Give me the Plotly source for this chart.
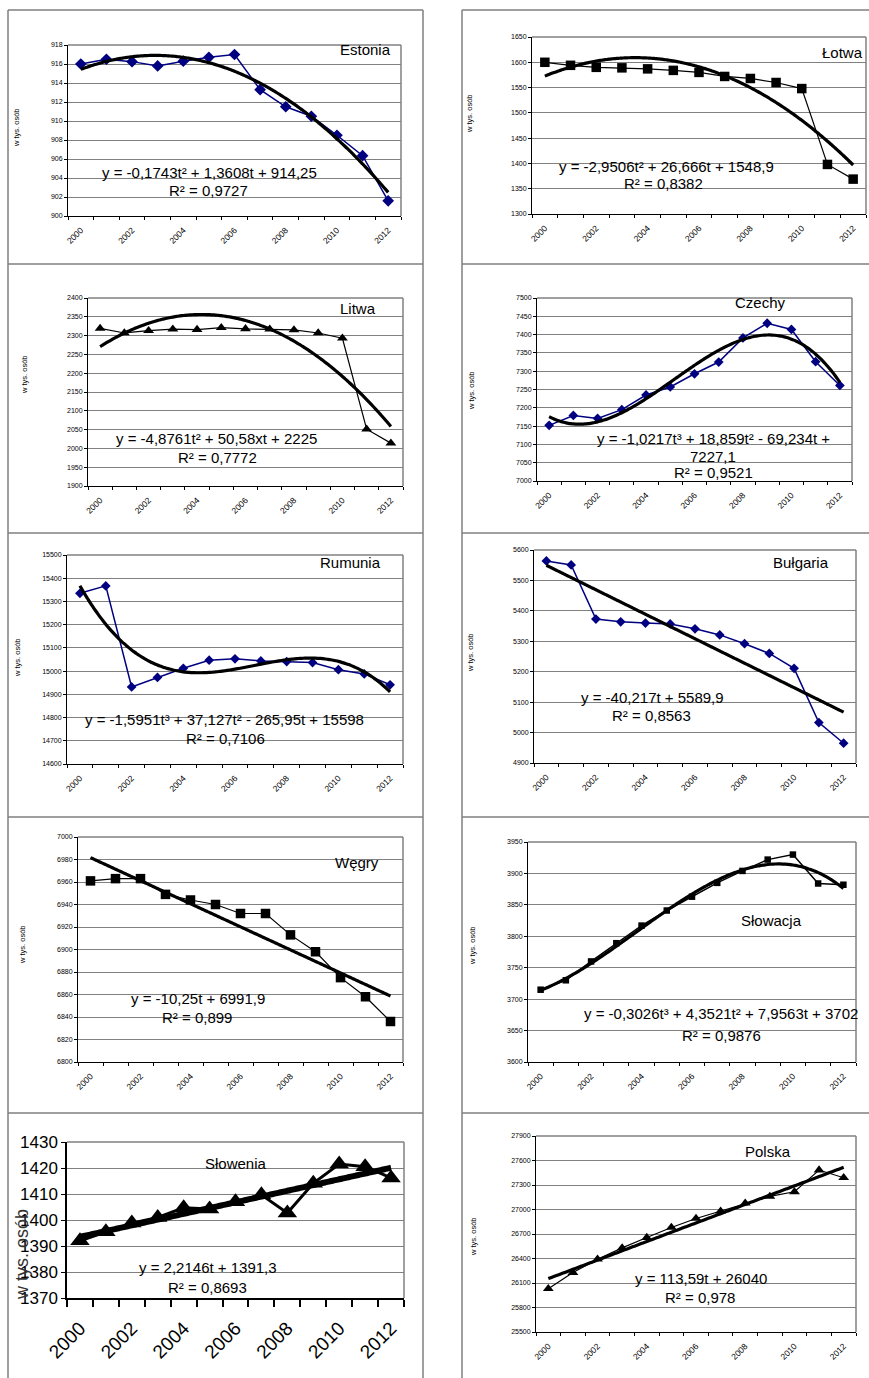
import numpy as np
import plotly.graph_objects as go

W, H = 869, 1378
FONT = "Liberation Sans, Arial, sans-serif"
NAVY = "#000080"
GRID = "#808080"

# ---------------- data ----------------
years = [str(y) for y in range(2000, 2013)]
t = list(range(1, 14))
year_ticks = [1, 3, 5, 7, 9, 11, 13]
year_labels = ["2000", "2002", "2004", "2006", "2008", "2010", "2012"]

estonia = [916.0, 916.5, 916.25, 915.8, 916.3, 916.7, 917.0, 913.3, 911.5, 910.5, 908.5, 906.35, 901.6]
lotwa = [1600, 1594, 1590, 1589, 1587, 1584, 1580, 1572, 1568, 1560, 1548, 1398, 1369]
litwa = [2319, 2307, 2313, 2317, 2316, 2321, 2318, 2317, 2315, 2307, 2293, 2051, 2014]
czechy = [7152, 7179, 7171, 7195, 7235, 7257, 7293, 7325, 7391, 7431, 7414, 7326, 7261]
rumunia = [15335, 15367, 14932, 14973, 15012, 15047, 15053, 15044, 15041, 15037, 15006, 14988, 14941]
bulgaria = [5564, 5551, 5373, 5364, 5360, 5357, 5341, 5321, 5292, 5260, 5211, 5033, 4965]
wegry = [6961, 6963, 6963, 6949, 6944, 6940, 6932, 6932, 6913, 6898, 6875, 6858, 6836]
slowacja = [3715, 3730, 3760, 3789, 3817, 3841, 3863, 3885, 3904, 3922, 3930, 3884, 3882]
slowenia = [1392, 1395.5, 1398.8, 1401, 1404.7, 1404.2, 1407, 1409.7, 1402.7, 1414.1, 1421.5, 1420.5, 1416.2]
polska = [26030, 26228, 26391, 26530, 26657, 26780, 26890, 26980, 27078, 27160, 27217, 27483, 27389]

# trend-line coefficients, as printed on the charts (highest power first)
coef_estonia = [-0.1743, 1.3608, 914.25]
coef_lotwa = [-2.9506, 26.666, 1548.9]
coef_litwa = [-4.8761, 50.58, 2225]
coef_czechy = [-1.0217, 18.859, -69.234, 7227.1]
coef_rumunia = [-1.5951, 37.127, -265.95, 15598]
coef_bulgaria = [-40.217, 5589.9]
coef_wegry = [-10.25, 6991.9]
coef_slowacja = [-0.3026, 4.3521, 7.9563, 3702]
coef_slowenia = [2.2146, 1391.3]
coef_polska = [113.59, 26040]

eq_estonia = ["y = -0,1743t² + 1,3608t + 914,25", "R² = 0,9727"]
eq_lotwa = ["y = -2,9506t² + 26,666t + 1548,9", "R² = 0,8382"]
eq_litwa = ["y = -4,8761t² + 50,58xt + 2225", "R² = 0,7772"]
eq_czechy = ["y = -1,0217t³ + 18,859t² - 69,234t +", "7227,1", "R² = 0,9521"]
eq_rumunia = ["y = -1,5951t³ + 37,127t² - 265,95t + 15598", "R² = 0,7106"]
eq_bulgaria = ["y = -40,217t + 5589,9", "R² = 0,8563"]
eq_wegry = ["y = -10,25t + 6991,9", "R² = 0,899"]
eq_slowacja = ["y = -0,3026t³ + 4,3521t² + 7,9563t + 3702", "R² = 0,9876"]
eq_slowenia = ["y = 2,2146t + 1391,3", "R² = 0,8693"]
eq_polska = ["y = 113,59t + 26040", "R² = 0,978"]

y_title = "w tys. osób"

# ---------------- layout config (pixels) ----------------
panels = [
    dict(name="Estonia", y=estonia, coef=coef_estonia, eq=eq_estonia, color=NAVY, symbol="diamond",
         ms=9, lw=1.5, tw=3.2, yr=(900, 918), dt=2, dom=(68, 401, 45, 216),
         tpos=(365, 49), eqpos=[(209, 172), (208, 190)], ytp=(16, 128)),
    dict(name="Łotwa", y=lotwa, coef=coef_lotwa, eq=eq_lotwa, color="black", symbol="square",
         ms=9.5, lw=1.2, tw=3.2, yr=(1300, 1650), dt=50, dom=(532, 866, 37, 214),
         tpos=(842, 53), eqpos=[(666, 166), (663, 184)], ytp=(470, 113)),
    dict(name="Litwa", y=litwa, coef=coef_litwa, eq=eq_litwa, color="black", symbol="triangle-up",
         ms=9.5, lw=1.2, tw=3.2, yr=(1900, 2400), dt=50, dom=(88, 403, 298, 486),
         tpos=(358, 308), eqpos=[(216, 438), (217, 457)], ytp=(25, 375)),
    dict(name="Czechy", y=czechy, coef=coef_czechy, eq=eq_czechy, color=NAVY, symbol="diamond",
         ms=7.5, lw=1.5, tw=3.2, yr=(7000, 7500), dt=50, dom=(537, 852, 298, 481),
         tpos=(760, 302), eqpos=[(713, 438), (713, 456), (713, 473)], ytp=(472, 390)),
    dict(name="Rumunia", y=rumunia, coef=coef_rumunia, eq=eq_rumunia, color=NAVY, symbol="diamond",
         ms=7.5, lw=1.5, tw=3.2, yr=(14600, 15500), dt=100, dom=(67, 403, 555, 764),
         tpos=(350, 563), eqpos=[(224, 719), (225, 738)], ytp=(17, 658)),
    dict(name="Bułgaria", y=bulgaria, coef=coef_bulgaria, eq=eq_bulgaria, color=NAVY, symbol="diamond",
         ms=7.5, lw=1.5, tw=3.2, yr=(4900, 5600), dt=100, dom=(534, 856, 550, 763),
         tpos=(801, 563), eqpos=[(652, 698), (651, 715)], ytp=(470, 652)),
    dict(name="Węgry", y=wegry, coef=coef_wegry, eq=eq_wegry, color="black", symbol="square",
         ms=9.5, lw=1.2, tw=3.2, yr=(6800, 7000), dt=20, dom=(78, 403, 837, 1062),
         tpos=(357, 862), eqpos=[(198, 998), (197, 1017)], ytp=(22, 945)),
    dict(name="Słowacja", y=slowacja, coef=coef_slowacja, eq=eq_slowacja, color="black", symbol="square",
         ms=6.5, lw=1.5, tw=3.2, yr=(3600, 3950), dt=50, dom=(528, 856, 842, 1062),
         tpos=(771, 920), eqpos=[(721, 1014), (721, 1035)], ytp=(472, 945)),
    dict(name="Słowenia", y=slowenia, coef=coef_slowenia, eq=eq_slowenia, color="black", symbol="triangle-up",
         ms=17, lw=3, tw=6, yr=(1370, 1430), dt=10, dom=(67, 404, 1142, 1298),
         tpos=(236, 1163), eqpos=[(208, 1267), (207, 1287)], ytp=(22, 1255), big=True),
    dict(name="Polska", y=polska, coef=coef_polska, eq=eq_polska, color="black", symbol="triangle-up",
         ms=9.5, lw=1.2, tw=3.2, yr=(25500, 27900), dt=300, dom=(536, 856, 1136, 1332),
         tpos=(768, 1151), eqpos=[(701, 1278), (700, 1297)], ytp=(473, 1237)),
]


def fx(px):
    return px / W


def fy(py):
    return 1 - py / H


fig = go.Figure()
shapes = []
annotations = []
layout_axes = {}

for i, p in enumerate(panels, start=1):
    xa = "x" if i == 1 else f"x{i}"
    ya = "y" if i == 1 else f"y{i}"
    xkey = "xaxis" if i == 1 else f"xaxis{i}"
    ykey = "yaxis" if i == 1 else f"yaxis{i}"
    big = p.get("big", False)

    fig.add_trace(go.Scatter(
        x=t, y=p["y"], mode="lines+markers", xaxis=xa, yaxis=ya,
        line=dict(color=p["color"], width=p["lw"]),
        marker=dict(symbol=p["symbol"], size=p["ms"], color=p["color"],
                    line=dict(color=p["color"], width=0)),
        showlegend=False, hoverinfo="skip"))
    tt = np.linspace(1, 13, 121)
    fig.add_trace(go.Scatter(
        x=tt, y=np.polyval(p["coef"], tt), mode="lines", xaxis=xa, yaxis=ya,
        line=dict(color="black", width=p["tw"], shape="spline"),
        showlegend=False, hoverinfo="skip"))

    x0, x1, y0, y1 = p["dom"]
    layout_axes[xkey] = dict(
        domain=[fx(x0), fx(x1)], anchor=ya, range=[0.5, 13.5], automargin=False,
        tickmode="array", tickvals=year_ticks, ticktext=year_labels,
        tickangle=-45, ticks="", showgrid=False, zeroline=False,
        showline=True, linecolor="black", linewidth=1.5 if big else 1,
        tickfont=dict(family=FONT, size=19 if big else 8.5, color="black"),
        ticklabelstandoff=10 if big else 5,
        minor=dict(tickmode="array", tickvals=[k + 0.5 for k in range(14)],
                   ticks="outside", ticklen=7 if big else 3,
                   tickcolor="black", tickwidth=1.5 if big else 1, showgrid=False),
    )
    layout_axes[ykey] = dict(
        domain=[fy(y1), fy(y0)], anchor=xa, range=list(p["yr"]), dtick=p["dt"],
        tick0=p["yr"][0], tickformat="d", automargin=False,
        showgrid=True, gridcolor=GRID, gridwidth=1, zeroline=False,
        showline=True, linecolor="black", linewidth=1.5 if big else 1,
        ticks="outside", ticklen=4 if big else 3, tickcolor="black",
        tickfont=dict(family=FONT, size=17 if big else 7, color="black"),
    )
    # plot-area border (top and right)
    shapes.append(dict(type="line", xref=f"{xa} domain", yref=f"{ya} domain",
                       x0=0, x1=1, y0=1, y1=1, line=dict(color=GRID, width=1.5)))
    shapes.append(dict(type="line", xref=f"{xa} domain", yref=f"{ya} domain",
                       x0=1, x1=1, y0=0, y1=1, line=dict(color=GRID, width=1.5)))

    # title
    annotations.append(dict(text=p["name"], xref="paper", yref="paper",
                            x=fx(p["tpos"][0]), y=fy(p["tpos"][1]),
                            xanchor="center", yanchor="middle", showarrow=False,
                            font=dict(family=FONT, size=15, color="black")))
    # equation lines
    for txt, (cx, cy) in zip(p["eq"], p["eqpos"]):
        annotations.append(dict(text=txt, xref="paper", yref="paper",
                                x=fx(cx), y=fy(cy), xanchor="center", yanchor="middle",
                                showarrow=False,
                                font=dict(family=FONT, size=15, color="black")))
    # y-axis title
    annotations.append(dict(text=y_title, xref="paper", yref="paper",
                            x=fx(p["ytp"][0]), y=fy(p["ytp"][1]), textangle=-90,
                            xanchor="center", yanchor="middle", showarrow=False,
                            font=dict(family=FONT, size=18 if big else 7.5,
                                      color="#333333" if big else "black")))

# table grid lines (panel frames)
tcol = "#7f7f7f"
for xl in (8, 423, 462):
    shapes.append(dict(type="line", xref="paper", yref="paper",
                       x0=fx(xl), x1=fx(xl), y0=fy(10), y1=fy(H),
                       line=dict(color=tcol, width=1.5)))
for yl in (10, 264, 533, 817, 1113):
    shapes.append(dict(type="line", xref="paper", yref="paper",
                       x0=fx(8), x1=fx(423), y0=fy(yl), y1=fy(yl),
                       line=dict(color=tcol, width=1.5)))
    shapes.append(dict(type="line", xref="paper", yref="paper",
                       x0=fx(462), x1=1, y0=fy(yl), y1=fy(yl),
                       line=dict(color=tcol, width=1.5)))

fig.update_layout(
    template="none",
    width=W, height=H, margin=dict(l=0, r=0, t=0, b=0, autoexpand=False),
    paper_bgcolor="white", plot_bgcolor="white",
    font=dict(family=FONT, color="black"),
    shapes=shapes, annotations=annotations, showlegend=False,
    **layout_axes,
)

fig.write_html("out.html", config={"displayModeBar": False},
               post_script="document.body.style.margin='0';document.body.style.overflow='hidden';")
